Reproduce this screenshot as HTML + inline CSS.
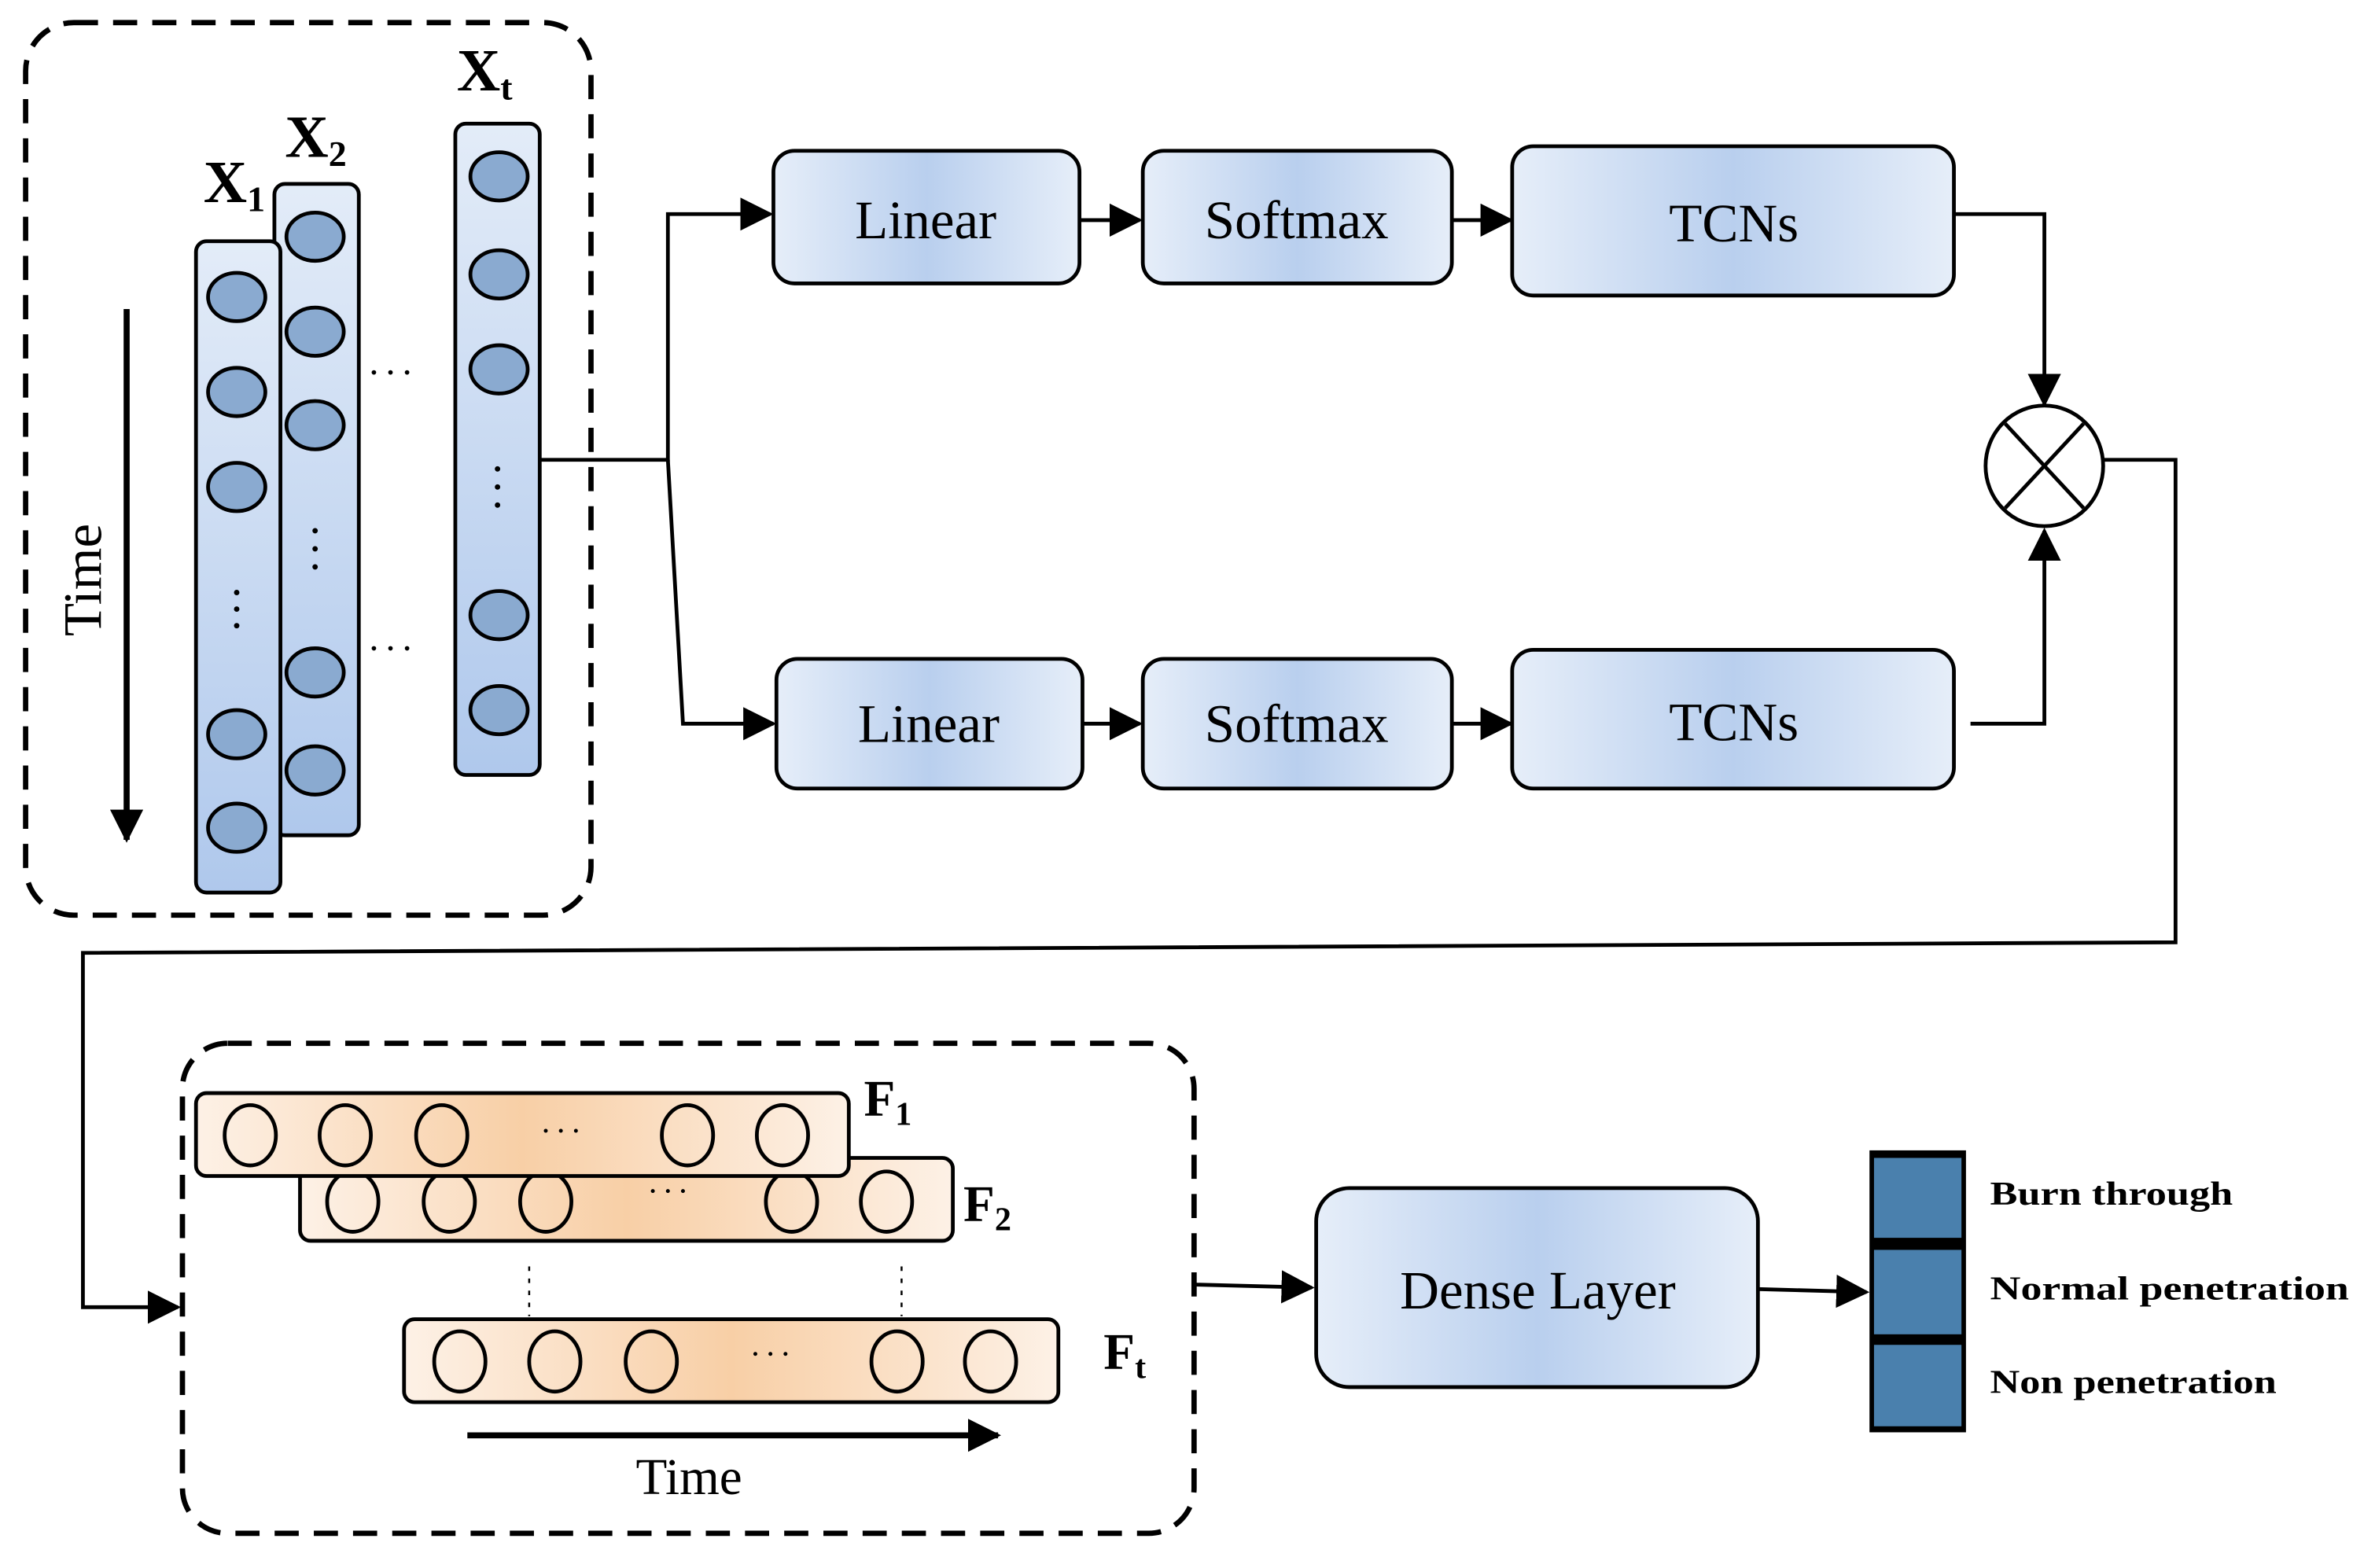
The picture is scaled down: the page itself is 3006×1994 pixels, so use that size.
<!DOCTYPE html>
<html><head><meta charset="utf-8"><style>
html,body{margin:0;padding:0;background:#fff}
svg{display:block}
</style></head><body>
<svg width="3006" height="1994" viewBox="0 0 1568 1040" preserveAspectRatio="none" xmlns="http://www.w3.org/2000/svg" font-family="'Liberation Serif', serif">
<defs>
<linearGradient id="bh" x1="0" x2="1" y1="0" y2="0">
<stop offset="0" stop-color="#e6eef9"/><stop offset="0.5" stop-color="#b9cfee"/><stop offset="1" stop-color="#e6eef9"/>
</linearGradient>
<linearGradient id="bv" x1="0" x2="0" y1="0" y2="1">
<stop offset="0" stop-color="#e3ecf8"/><stop offset="1" stop-color="#afc8ec"/>
</linearGradient>
<linearGradient id="oh" x1="0" x2="1" y1="0" y2="0">
<stop offset="0" stop-color="#fdf1e6"/><stop offset="0.5" stop-color="#f8cfa6"/><stop offset="1" stop-color="#fdf1e6"/>
</linearGradient>
<marker id="ar2" markerWidth="22" markerHeight="22" refX="20" refY="11" orient="auto" markerUnits="userSpaceOnUse" viewBox="0 0 22 22">
<path d="M0,0 L22,11 L0,22 z" fill="#000"/>
</marker>
</defs>

<rect x="17" y="15" width="375" height="592" rx="32" fill="none" stroke="#000" stroke-width="3.5" stroke-dasharray="16,10"/>

<g stroke="#000" stroke-width="2.5">
<rect x="182" y="122" width="56" height="432" rx="7" fill="url(#bv)"/>
<rect x="302" y="82" width="56" height="432" rx="7" fill="url(#bv)"/>
<rect x="130" y="160" width="56" height="432" rx="7" fill="url(#bv)"/>
</g>
<g fill="#8aaad0" stroke="#000" stroke-width="2.5">
<ellipse cx="157" cy="197" rx="19" ry="16"/><ellipse cx="157" cy="260" rx="19" ry="16"/><ellipse cx="157" cy="323" rx="19" ry="16"/><ellipse cx="157" cy="487" rx="19" ry="16"/><ellipse cx="157" cy="549" rx="19" ry="16"/>
<ellipse cx="209" cy="157" rx="19" ry="16"/><ellipse cx="209" cy="220" rx="19" ry="16"/><ellipse cx="209" cy="282" rx="19" ry="16"/><ellipse cx="209" cy="446" rx="19" ry="16"/><ellipse cx="209" cy="511" rx="19" ry="16"/>
<ellipse cx="331" cy="117" rx="19" ry="16"/><ellipse cx="331" cy="182" rx="19" ry="16"/><ellipse cx="331" cy="245" rx="19" ry="16"/><ellipse cx="331" cy="408" rx="19" ry="16"/><ellipse cx="331" cy="471" rx="19" ry="16"/>
</g>
<g fill="#000">
<circle cx="157" cy="393" r="1.8"/><circle cx="157" cy="404" r="1.8"/><circle cx="157" cy="415" r="1.8"/>
<circle cx="209" cy="352" r="1.8"/><circle cx="209" cy="364" r="1.8"/><circle cx="209" cy="376" r="1.8"/>
<circle cx="330" cy="311" r="1.8"/><circle cx="330" cy="323" r="1.8"/><circle cx="330" cy="335" r="1.8"/>
<circle cx="248" cy="247" r="1.5"/><circle cx="259" cy="247" r="1.5"/><circle cx="270" cy="247" r="1.5"/>
<circle cx="248" cy="430" r="1.5"/><circle cx="259" cy="430" r="1.5"/><circle cx="270" cy="430" r="1.5"/>
</g>
<g font-weight="bold" font-size="40">
<text x="135" y="134">X<tspan font-size="24" dy="6">1</tspan></text>
<text x="189" y="104">X<tspan font-size="24" dy="6">2</tspan></text>
<text x="303" y="60">X<tspan font-size="24" dy="6">t</tspan></text>
</g>
<line x1="84" y1="205" x2="84" y2="557" stroke="#000" stroke-width="4" marker-end="url(#ar2)"/>
<text x="0" y="0" font-size="36" transform="translate(67,422) rotate(-90)">Time</text>

<g stroke="#000" stroke-width="2.5" fill="none">
<polyline points="358,305 443,305 443,142 511,142" marker-end="url(#ar2)"/>
<polyline points="443,305 453,480 513,480" marker-end="url(#ar2)"/>
<line x1="716" y1="146" x2="756" y2="146" marker-end="url(#ar2)"/>
<line x1="963" y1="146" x2="1002" y2="146" marker-end="url(#ar2)"/>
<line x1="718" y1="480" x2="756" y2="480" marker-end="url(#ar2)"/>
<line x1="963" y1="480" x2="1002" y2="480" marker-end="url(#ar2)"/>
<polyline points="1296,142 1356,142 1356,268" marker-end="url(#ar2)"/>
<polyline points="1307,480 1356,480 1356,352" marker-end="url(#ar2)"/>
<polyline points="1386,305 1443,305 1443,625 55,632 55,867 118,867" marker-end="url(#ar2)"/>
<line x1="792" y1="852" x2="870" y2="854" marker-end="url(#ar2)"/>
<line x1="1166" y1="855" x2="1238" y2="857" marker-end="url(#ar2)"/>
</g>

<g stroke="#000" stroke-width="2.5" fill="url(#bh)">
<rect x="513" y="100" width="203" height="88" rx="14"/>
<rect x="758" y="100" width="205" height="88" rx="14"/>
<rect x="1003" y="97" width="293" height="99" rx="14"/>
<rect x="515" y="437" width="203" height="86" rx="14"/>
<rect x="758" y="437" width="205" height="86" rx="14"/>
<rect x="1003" y="431" width="293" height="92" rx="14"/>
<rect x="873" y="788" width="293" height="132" rx="22"/>
</g>
<g font-size="36" text-anchor="middle">
<text x="614" y="158">Linear</text>
<text x="860" y="158">Softmax</text>
<text x="1150" y="160">TCNs</text>
<text x="616" y="492">Linear</text>
<text x="860" y="492">Softmax</text>
<text x="1150" y="491">TCNs</text>
<text x="1020" y="868">Dense Layer</text>
</g>

<ellipse cx="1356" cy="309" rx="39" ry="40" fill="#fff" stroke="#000" stroke-width="2.5"/>
<line x1="1330" y1="281" x2="1382" y2="337" stroke="#000" stroke-width="2.5"/>
<line x1="1382" y1="281" x2="1330" y2="337" stroke="#000" stroke-width="2.5"/>

<rect x="121" y="692" width="671" height="325" rx="30" fill="none" stroke="#000" stroke-width="3.5" stroke-dasharray="16,10"/>

<rect x="199" y="768" width="433" height="55" rx="7" fill="url(#oh)" stroke="#000" stroke-width="2.5"/>
<g fill="none" stroke="#000" stroke-width="2.5">
<ellipse cx="234" cy="797" rx="17" ry="20"/><ellipse cx="298" cy="797" rx="17" ry="20"/><ellipse cx="362" cy="797" rx="17" ry="20"/><ellipse cx="525" cy="797" rx="17" ry="20"/><ellipse cx="588" cy="797" rx="17" ry="20"/>
</g>
<rect x="130" y="725" width="433" height="55" rx="7" fill="url(#oh)" stroke="#000" stroke-width="2.5"/>
<rect x="268" y="875" width="434" height="55" rx="7" fill="url(#oh)" stroke="#000" stroke-width="2.5"/>
<g fill="none" stroke="#000" stroke-width="2.5">
<ellipse cx="166" cy="753" rx="17" ry="20"/><ellipse cx="229" cy="753" rx="17" ry="20"/><ellipse cx="293" cy="753" rx="17" ry="20"/><ellipse cx="456" cy="753" rx="17" ry="20"/><ellipse cx="519" cy="753" rx="17" ry="20"/>
<ellipse cx="305" cy="903" rx="17" ry="20"/><ellipse cx="368" cy="903" rx="17" ry="20"/><ellipse cx="432" cy="903" rx="17" ry="20"/><ellipse cx="595" cy="903" rx="17" ry="20"/><ellipse cx="657" cy="903" rx="17" ry="20"/>
</g>
<g fill="#000">
<circle cx="362" cy="750" r="1.3"/><circle cx="372" cy="750" r="1.3"/><circle cx="382" cy="750" r="1.3"/>
<circle cx="433" cy="790" r="1.3"/><circle cx="443" cy="790" r="1.3"/><circle cx="453" cy="790" r="1.3"/>
<circle cx="501" cy="898" r="1.3"/><circle cx="511" cy="898" r="1.3"/><circle cx="521" cy="898" r="1.3"/>
</g>
<g stroke="#000" stroke-width="1.3" stroke-dasharray="3,5">
<line x1="351" y1="840" x2="351" y2="873"/><line x1="598" y1="840" x2="598" y2="873"/>
</g>
<g font-size="34" font-weight="bold">
<text x="573" y="740">F<tspan font-size="22" dy="6">1</tspan></text>
<text x="639" y="810">F<tspan font-size="22" dy="6">2</tspan></text>
<text x="732" y="908">F<tspan font-size="22" dy="6">t</tspan></text>
</g>
<line x1="310" y1="952" x2="662" y2="952" stroke="#000" stroke-width="4" marker-end="url(#ar2)"/>
<text x="457" y="991" font-size="34" text-anchor="middle">Time</text>

<rect x="1240" y="763" width="64" height="187" fill="#000"/>
<rect x="1243" y="768" width="58" height="53" fill="#4a80ad"/>
<rect x="1243" y="829" width="58" height="56" fill="#4a80ad"/>
<rect x="1243" y="892" width="58" height="54" fill="#4a80ad"/>
<g font-size="22" font-weight="bold">
<text x="1320" y="799" textLength="161" lengthAdjust="spacingAndGlyphs">Burn through</text>
<text x="1320" y="862" textLength="238" lengthAdjust="spacingAndGlyphs">Normal  penetration</text>
<text x="1320" y="924" textLength="190" lengthAdjust="spacingAndGlyphs">Non penetration</text>
</g>
</svg>
</body></html>
